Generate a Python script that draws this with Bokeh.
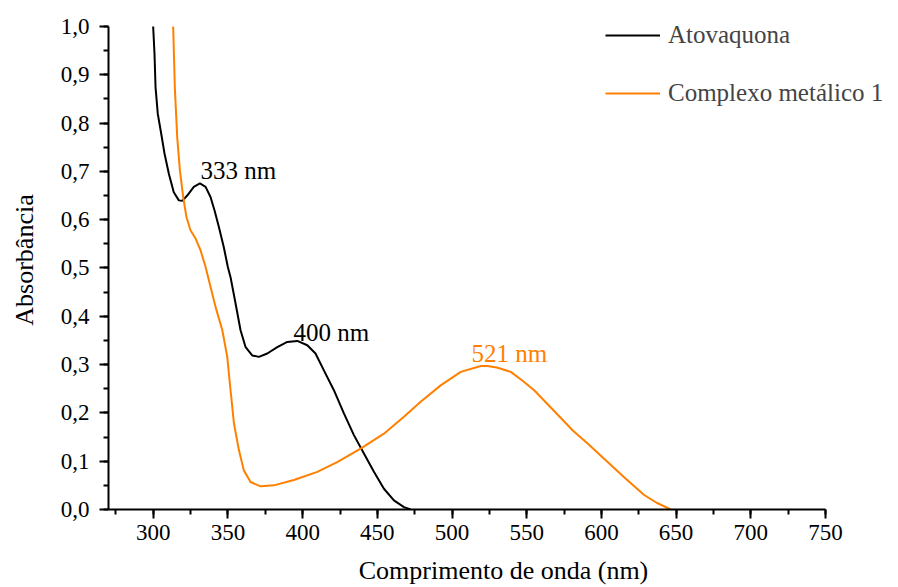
from bokeh.plotting import figure
from bokeh.models import (SingleIntervalTicker, CustomJSTickFormatter, Legend, LegendItem, Label)
from bokeh.embed import file_html
from bokeh.resources import INLINE

# Atovaquona spectrum (nm, absorbance)
ato_nm = [299.9, 300.8, 301.5, 303.0, 305.3, 307.5, 310.4, 313.7, 317.1, 319.4, 322.7, 327.1,
          331.2, 335.0, 338.3, 341.0, 343.9, 347.2, 349.9, 351.7, 355.1, 358.4, 361.8, 366.2,
          370.7, 376.3, 383.0, 389.7, 396.4, 403.1, 408.6, 414.2, 420.9, 427.6, 434.3, 441.0,
          447.7, 454.4, 461.1, 467.8, 472.3]
ato_abs = [1.0, 0.943, 0.874, 0.819, 0.778, 0.737, 0.695, 0.657, 0.640, 0.639, 0.650, 0.668,
           0.675, 0.668, 0.647, 0.619, 0.585, 0.543, 0.502, 0.481, 0.426, 0.371, 0.336, 0.319,
           0.316, 0.323, 0.336, 0.347, 0.349, 0.340, 0.323, 0.288, 0.247, 0.199, 0.154, 0.116,
           0.078, 0.043, 0.019, 0.005, 0.0]

# Complexo metálico 1 spectrum (nm, absorbance)
cpx_nm = [313.3, 314.4, 316.0, 317.8, 320.0, 322.2, 324.9, 328.3, 331.6, 335.0, 338.3, 341.7,
          346.2, 349.5, 351.7, 354.0, 357.3, 360.6, 365.1, 371.8, 380.7, 394.1, 409.8, 423.1,
          438.8, 454.4, 467.8, 479.0, 492.4, 505.8, 519.2, 523.6, 530.0, 539.3, 547.0, 555.0,
          564.0, 572.7, 581.0, 590.6, 601.8, 615.2, 628.6, 637.0, 646.4]
cpx_abs = [1.0, 0.874, 0.771, 0.702, 0.647, 0.605, 0.578, 0.561, 0.537, 0.502, 0.461, 0.419,
           0.371, 0.316, 0.247, 0.178, 0.123, 0.081, 0.057, 0.048, 0.050, 0.061, 0.078, 0.098,
           0.126, 0.157, 0.192, 0.223, 0.257, 0.285, 0.297, 0.297, 0.294, 0.285, 0.267, 0.247,
           0.218, 0.190, 0.163, 0.137, 0.105, 0.067, 0.030, 0.014, 0.0]

series_names = ["Atovaquona", "Complexo metálico 1"]
series_colors = ["#000000", "#FF8000"]

peak_labels = ["333 nm", "400 nm", "521 nm"]
peak_label_x = [331.6, 393.9, 513.1]
peak_label_y = [0.702, 0.367, 0.323]
peak_label_colors = ["#000000", "#000000", "#FF8000"]

x_axis_bounds = (270, 750)
y_axis_bounds = (0, 1)
x_view = (270, 798.9)
y_view = (0, 1.0331)

FONT = "'Liberation Serif'"

p = figure(width=898, height=587, x_range=x_view, y_range=y_view,
           output_backend="svg", toolbar_location=None,
           min_border_left=108, min_border_top=10, min_border_right=0, min_border_bottom=78)
p.outline_line_color = None
p.grid.visible = False
p.background_fill_color = "white"
p.border_fill_color = "white"

r1 = p.line(ato_nm, ato_abs, line_color=series_colors[0], line_width=2)
r2 = p.line(cpx_nm, cpx_abs, line_color=series_colors[1], line_width=2)

for ax in (p.xaxis[0], p.yaxis[0]):
    ax.axis_line_width = 2
    ax.major_tick_line_width = 2
    ax.minor_tick_line_width = 2
    ax.major_tick_in = 0
    ax.minor_tick_in = 0
    ax.major_tick_out = 9
    ax.minor_tick_out = 5
    ax.major_label_text_font = FONT
    ax.major_label_text_font_size = "23px"
    ax.major_label_text_color = "black"
    ax.axis_label_text_font = FONT
    ax.axis_label_text_font_size = "26px"
    ax.axis_label_text_font_style = "normal"
    ax.axis_label_text_color = "black"

p.xaxis.bounds = x_axis_bounds
p.yaxis.bounds = y_axis_bounds
p.xaxis.ticker = SingleIntervalTicker(interval=50, num_minor_ticks=2)
p.yaxis.ticker = SingleIntervalTicker(interval=0.1, num_minor_ticks=2)
p.yaxis.formatter = CustomJSTickFormatter(code="return tick.toFixed(1).replace('.', ',');")
p.xaxis.axis_label = "Comprimento de onda (nm)"
p.yaxis.axis_label = "Absorbância"
p.xaxis.major_label_standoff = 6
p.xaxis.axis_label_standoff = 13
p.yaxis.major_label_standoff = 10
p.yaxis.axis_label_standoff = 19

for txt, x, y, c in zip(peak_labels, peak_label_x, peak_label_y, peak_label_colors):
    p.add_layout(Label(x=x, y=y, text=txt, text_font=FONT, text_font_size="25px",
                       text_color=c, text_align="left", text_baseline="middle"))

legend = Legend(items=[LegendItem(label=series_names[0], renderers=[r1]),
                       LegendItem(label=series_names[1], renderers=[r2])],
                location=(497, 402))
legend.label_text_font = FONT
legend.label_text_font_size = "25px"
legend.glyph_width = 55
legend.label_standoff = 8
legend.spacing = 30
legend.padding = 0
legend.margin = 0
legend.border_line_color = None
legend.background_fill_alpha = 0
p.add_layout(legend, "center")

open("out.html", "w").write(file_html(p, INLINE))
